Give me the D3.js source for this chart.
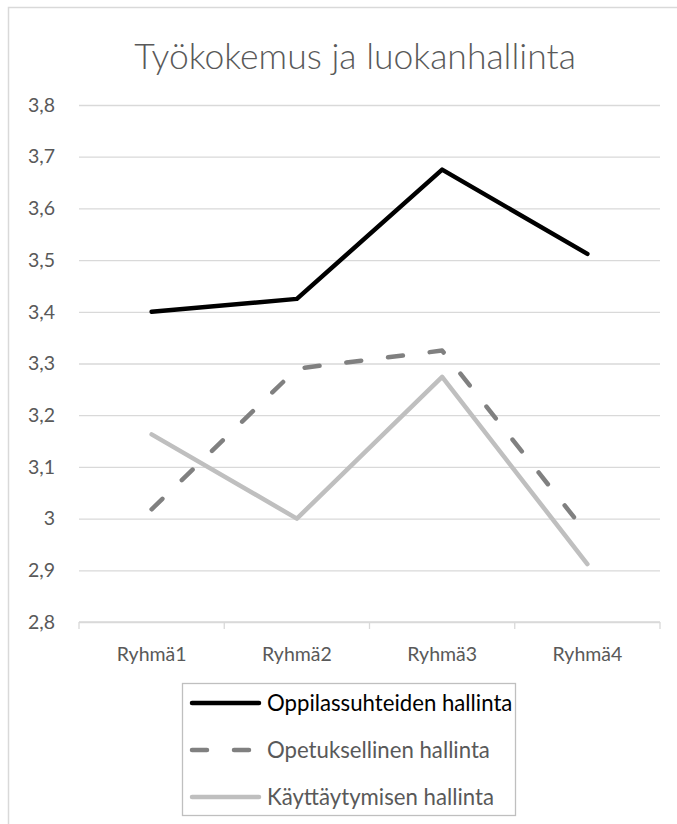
<!DOCTYPE html>
<html>
<head>
<meta charset="utf-8">
<script src="https://cdn.jsdelivr.net/npm/d3@7"></script>
<style>
  html, body { margin: 0; padding: 0; background: #fff; }
  svg { display: block; }
  text { font-family: Lato, "Open Sans", sans-serif; }
</style>
</head>
<body>
<svg id="chart" width="677" height="824"></svg>
<script>
// Groups along the x axis
const categories = ["Ryhmä1", "Ryhmä2", "Ryhmä3", "Ryhmä4"];

// Mean scores per group for each dimension of classroom management
const oppilassuhteet = [3.40, 3.425, 3.675, 3.512];
const opetuksellinen = [3.018, 3.29, 3.325, 2.97];
const kayttaytyminen = [3.163, 3.0, 3.274, 2.912];

const seriesNames = ["Oppilassuhteiden hallinta", "Opetuksellinen hallinta", "Käyttäytymisen hallinta"];
const yTicks = [2.8, 2.9, 3.0, 3.1, 3.2, 3.3, 3.4, 3.5, 3.6, 3.7, 3.8];
const yDomain = [2.8, 3.8];
const titleText = "Työkokemus ja luokanhallinta";

const series = [
  { name: seriesNames[0], values: oppilassuhteet, color: "#000000", dash: null, text: "#000000" },
  { name: seriesNames[1], values: opetuksellinen, color: "#808080", dash: "15,27", text: "#595959" },
  { name: seriesNames[2], values: kayttaytyminen, color: "#bfbfbf", dash: null, text: "#595959" }
];

const fi = d3.formatLocale({ decimal: ",", thousands: "\u00a0", grouping: [3], currency: ["", "\u00a0€"] });
const fmt = fi.format(".2~f");

const svg = d3.select("#chart");
const plot = { left: 79, right: 660, top: 105, bottom: 622 };

// Chart frame
svg.append("path")
  .attr("d", `M8.5,824 V7.5 H677`)
  .attr("fill", "none").attr("stroke", "#d9d9d9").attr("stroke-width", 1.5);

// Title
svg.append("text")
  .attr("x", 355).attr("y", 69)
  .attr("text-anchor", "middle")
  .attr("font-size", 35.5).attr("font-weight", 300)
  .attr("fill", "#595959")
  .text(titleText);

const x = d3.scaleBand().domain(categories).range([plot.left, plot.right]).padding(0);
const y = d3.scaleLinear().domain(yDomain).range([plot.bottom, plot.top]);

// Horizontal gridlines and value labels
const yAxis = d3.axisLeft(y).tickValues(yTicks).tickFormat(fmt)
  .tickSize(-(plot.right - plot.left)).tickPadding(24);
const gy = svg.append("g").attr("transform", `translate(${plot.left},0)`).call(yAxis);
gy.select(".domain").remove();
gy.selectAll(".tick line").attr("stroke", "#d9d9d9").attr("stroke-width", 1.3);
gy.selectAll(".tick text").attr("fill", "#595959").attr("font-size", 19.5)
  .style("font-family", "Lato, sans-serif");

// Category axis with boundary ticks
const gx = svg.append("g").attr("transform", `translate(0,${plot.bottom})`)
  .call(d3.axisBottom(x).tickSize(0).tickPadding(25));
gx.select(".domain").attr("stroke", "#d9d9d9").attr("stroke-width", 1.3)
  .attr("d", `M${plot.left},0H${plot.right}`);
gx.selectAll(".tick text").attr("fill", "#595959").attr("font-size", 19.5)
  .style("font-family", "Lato, sans-serif");
const bounds = categories.map(c => x(c)).concat([x(categories[categories.length - 1]) + x.bandwidth()]);
gx.selectAll(".bound").data(bounds).join("line")
  .attr("x1", d => d).attr("x2", d => d).attr("y1", 0).attr("y2", 7)
  .attr("stroke", "#d9d9d9").attr("stroke-width", 1.3);

// Series lines
const line = d3.line()
  .x((d, i) => x(categories[i]) + x.bandwidth() / 2)
  .y(d => y(d));

svg.append("g").selectAll("path").data(series.slice().reverse()).join("path")
  .attr("d", d => line(d.values))
  .attr("fill", "none")
  .attr("stroke", d => d.color)
  .attr("stroke-width", 4.5)
  .attr("stroke-linejoin", "round")
  .attr("stroke-linecap", "round")
  .attr("stroke-dasharray", d => d.dash);

// Legend
const lg = svg.append("g");
lg.append("rect").attr("x", 182.5).attr("y", 683.5).attr("width", 333).attr("height", 132)
  .attr("fill", "#fff").attr("stroke", "#bfbfbf").attr("stroke-width", 1.3);
const rows = lg.selectAll("g.row").data(series).join("g")
  .attr("transform", (d, i) => `translate(0,${703 + i * 47})`);
rows.append("line")
  .attr("x1", 192).attr("x2", 259).attr("y1", 0).attr("y2", 0)
  .attr("stroke", d => d.color).attr("stroke-width", 4.5)
  .attr("stroke-linecap", "round")
  .attr("stroke-dasharray", d => d.dash);
rows.append("text")
  .attr("x", 267).attr("y", 0).attr("dy", "0.35em")
  .attr("font-size", 22.2)
  .attr("fill", d => d.text)
  .text(d => d.name);
</script>
</body>
</html>
